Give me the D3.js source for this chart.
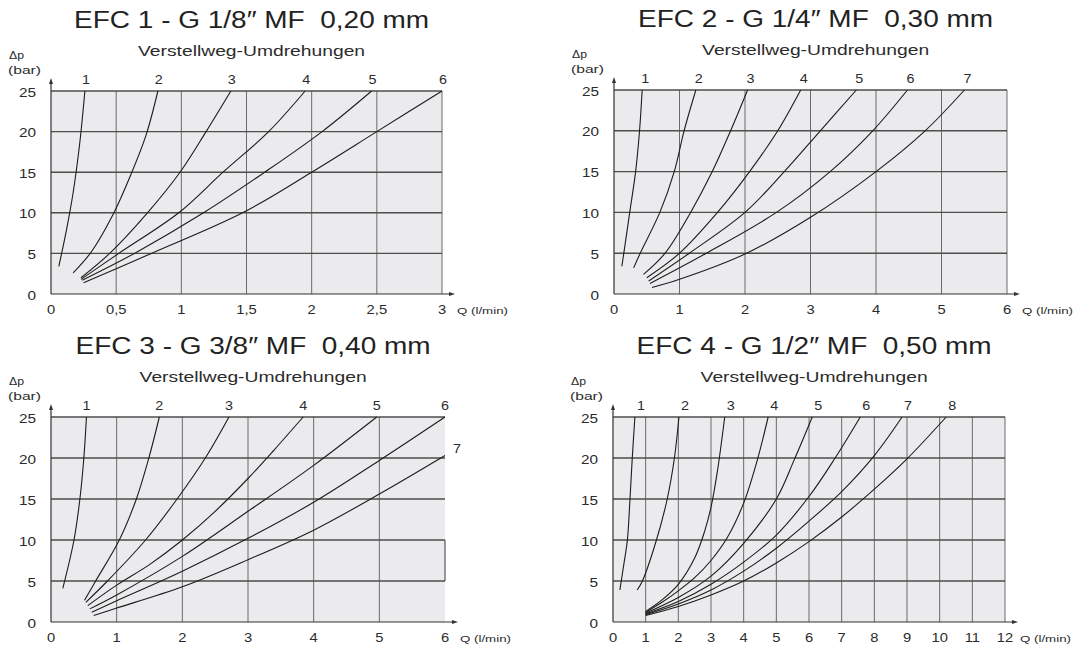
<!DOCTYPE html>
<html lang="de">
<head>
<meta charset="UTF-8">
<title>EFC Durchflusskennlinien</title>
<style>
  body { margin: 0; background: #fff; font-family: "Liberation Sans", Arial, sans-serif; }
  svg { display: block; }
</style>
</head>
<body>
<svg id="chart"></svg>
<script src="https://d3js.org/d3.v7.min.js"></script>
<script>
// --- data ---
const titles = [
  'EFC 1 - G 1/8″ MF  0,20 mm',
  'EFC 2 - G 1/4″ MF  0,30 mm',
  'EFC 3 - G 3/8″ MF  0,40 mm',
  'EFC 4 - G 1/2″ MF  0,50 mm'
];
const subtitle = 'Verstellweg-Umdrehungen';
const yLabel = ['Δp', '(bar)'];
const xLabel = 'Q (l/min)';
const yTicks = [0, 5, 10, 15, 20, 25];

const efc1XTicks = [0, 0.5, 1, 1.5, 2, 2.5, 3];
const efc2XTicks = [0, 1, 2, 3, 4, 5, 6];
const efc3XTicks = [0, 1, 2, 3, 4, 5, 6];
const efc4XTicks = [0, 1, 2, 3, 4, 5, 6, 7, 8, 9, 10, 11, 12];

// each curve: [Q, Δp] points, one curve per number of turns
const efc1Curves = [
  [[0.06, 3.4], [0.12, 8], [0.17, 12.5], [0.22, 18.5], [0.26, 25]],
  [[0.17, 2.6], [0.31, 5.2], [0.47, 9.6], [0.61, 14.6], [0.73, 19.6], [0.82, 25]],
  [[0.23, 2.0], [0.45, 5], [0.74, 10], [0.99, 15], [1.19, 20], [1.38, 25]],
  [[0.23, 1.8], [0.52, 5], [0.98, 10], [1.32, 15], [1.67, 20], [1.95, 25]],
  [[0.24, 1.7], [0.64, 5], [1.17, 10], [1.64, 15], [2.08, 20], [2.46, 25]],
  [[0.25, 1.4], [0.77, 5], [1.47, 10], [2.0, 15], [2.5, 20], [3.0, 25]]
];
const efc2Curves = [
  [[0.12, 3.4], [0.15, 5], [0.24, 10], [0.33, 15], [0.39, 20], [0.43, 25]],
  [[0.30, 3.2], [0.40, 5], [0.70, 10], [0.92, 15], [1.07, 20], [1.25, 25]],
  [[0.45, 2.4], [0.78, 5], [1.17, 10], [1.5, 15], [1.78, 20], [2.04, 25]],
  [[0.5, 2.0], [1.0, 5], [1.58, 10], [2.07, 15], [2.5, 20], [2.85, 25]],
  [[0.53, 1.6], [1.15, 5], [2.0, 10], [2.6, 15], [3.15, 20], [3.7, 25]],
  [[0.55, 1.3], [1.41, 5], [2.48, 10], [3.3, 15], [3.95, 20], [4.48, 25]],
  [[0.58, 0.8], [1.0, 1.8], [2.0, 4.9], [3.0, 9.4], [4.0, 15], [4.75, 20], [5.35, 25]]
];
const efc3Curves = [
  [[0.18, 4.1], [0.35, 10], [0.44, 15], [0.50, 20], [0.54, 25]],
  [[0.51, 2.65], [0.68, 5], [1.04, 10], [1.30, 15], [1.49, 20], [1.65, 25]],
  [[0.53, 2.4], [0.86, 5], [1.44, 10], [1.92, 15], [2.35, 20], [2.71, 25]],
  [[0.56, 2.0], [1.0, 4.5], [1.5, 7.0], [2.0, 10.0], [2.5, 13.5], [3.0, 17.5], [3.4, 21], [3.84, 25]],
  [[0.59, 1.6], [1.0, 3.3], [2.0, 8.0], [3.0, 13.5], [4.0, 19.1], [4.96, 25]],
  [[0.62, 1.2], [1.0, 2.6], [2.0, 6.2], [3.0, 10.2], [4.0, 14.6], [5.0, 19.7], [6.0, 25]],
  [[0.65, 0.8], [1.0, 1.7], [2.0, 4.3], [3.0, 7.6], [4.0, 11.2], [5.0, 15.6], [6.0, 20.3]]
];
const efc4Curves = [
  [[0.21, 3.9], [0.33, 7], [0.44, 10], [0.52, 15], [0.59, 20], [0.67, 25]],
  [[0.74, 3.9], [0.9, 5], [1.33, 10], [1.66, 15], [1.88, 20], [2.02, 25]],
  [[1.0, 1.3], [1.5, 2.7], [2.0, 4.6], [2.5, 7.8], [2.8, 11], [3.0, 14], [3.2, 18.5], [3.42, 25]],
  [[1.0, 1.2], [1.5, 2.4], [2.0, 3.8], [2.5, 5.4], [3.0, 7.5], [3.5, 10.3], [4.0, 14.5], [4.4, 19.5], [4.75, 25]],
  [[1.0, 1.1], [2.0, 3.0], [3.0, 5.6], [4.0, 9.6], [5.0, 15], [5.55, 19.8], [6.1, 25]],
  [[1.0, 1.0], [2.0, 2.5], [3.0, 4.6], [4.0, 7.3], [5.0, 10.6], [6.0, 15.3], [6.8, 20], [7.57, 25]],
  [[1.0, 0.9], [2.0, 2.2], [3.0, 3.9], [4.0, 6.2], [5.0, 9.0], [6.0, 12.3], [7.0, 15.9], [8.0, 20.3], [8.85, 25]],
  [[1.0, 0.8], [2.0, 1.9], [3.0, 3.3], [4.0, 5.0], [5.0, 7.2], [6.0, 9.8], [7.0, 12.8], [8.0, 16.2], [9.0, 19.9], [10.2, 25]]
];
// EFC 3: right border only drawn between these Δp values
const efc3EdgeSpan = [5, 10];

// --- layout ---
const width = 1082, height = 648;
const panels = [
  { xTicks: efc1XTicks, curves: efc1Curves, left: 51, right: 442, top: 91, bottom: 294, labelDx: 1 },
  { xTicks: efc2XTicks, curves: efc2Curves, left: 614, right: 1007, top: 90, bottom: 294, labelDx: 3 },
  { xTicks: efc3XTicks, curves: efc3Curves, left: 51, right: 445, top: 417, bottom: 622, labelDx: 0, edgeSpan: efc3EdgeSpan },
  { xTicks: efc4XTicks, curves: efc4Curves, left: 613, right: 1005, top: 417, bottom: 622, labelDx: 6 }
];

const svg = d3.select('#chart').attr('width', width).attr('height', height);
const fmt = d => String(d).replace('.', ',');
const ink = '#2b2b2b';

panels.forEach((p, i) => {
  const x = d3.scaleLinear().domain([0, d3.max(p.xTicks)]).range([p.left, p.right]);
  const y = d3.scaleLinear().domain([0, 25]).range([p.bottom, p.top]);
  const xMax = d3.max(p.xTicks);
  const g = svg.append('g');
  const cx = p.left + (p.right - p.left) * 0.513;

  // plot background
  g.append('rect')
    .attr('x', x(0)).attr('y', y(25))
    .attr('width', x(xMax) - x(0)).attr('height', y(0) - y(25))
    .attr('fill', '#ebebed');

  // vertical grid
  g.selectAll('.vgrid')
    .data(p.xTicks.filter(d => d > 0 && !(p.edgeSpan && d === xMax)))
    .join('line')
    .attr('x1', d => x(d)).attr('x2', d => x(d))
    .attr('y1', y(0)).attr('y2', y(25))
    .attr('stroke', '#6a6a6a').attr('stroke-width', 1);

  if (p.edgeSpan) {
    g.append('line')
      .attr('x1', x(xMax)).attr('x2', x(xMax))
      .attr('y1', y(p.edgeSpan[0])).attr('y2', y(p.edgeSpan[1]))
      .attr('stroke', '#555').attr('stroke-width', 1.2);
  }

  // horizontal grid
  g.selectAll('.hgrid')
    .data(yTicks.filter(d => d > 0))
    .join('line')
    .attr('x1', x(0)).attr('x2', x(xMax))
    .attr('y1', d => y(d)).attr('y2', d => y(d))
    .attr('stroke', '#4d4d4d').attr('stroke-width', 1.4);

  // axes with arrows
  g.append('line')
    .attr('x1', x(0)).attr('x2', x(0))
    .attr('y1', y(0)).attr('y2', y(25) - 10)
    .attr('stroke', '#333').attr('stroke-width', 1.2);
  g.append('path')
    .attr('d', `M${x(0)},${y(25) - 13}l-2,6h4z`)
    .attr('fill', '#333');
  g.append('line')
    .attr('x1', x(0)).attr('x2', x(xMax) + 10)
    .attr('y1', y(0)).attr('y2', y(0))
    .attr('stroke', '#333').attr('stroke-width', 1.2);
  g.append('path')
    .attr('d', `M${x(xMax) + 13},${y(0)}l-6,-2v4z`)
    .attr('fill', '#333');

  // curves
  const line = d3.line()
    .x(d => x(d[0])).y(d => y(d[1]))
    .curve(d3.curveCatmullRom.alpha(0.5));
  g.selectAll('.curve')
    .data(p.curves)
    .join('path')
    .attr('d', line)
    .attr('fill', 'none')
    .attr('stroke', '#1c1c1c')
    .attr('stroke-width', 1.1);

  // curve numbers
  g.selectAll('.cnum')
    .data(p.curves)
    .join('text')
    .attr('transform', d => {
      const end = d[d.length - 1];
      if (end[1] < 25) return `translate(${x(end[0]) + 12},${y(end[1]) - 3}) scale(1.15,1)`;
      return `translate(${x(end[0]) + p.labelDx},${y(25) - 7}) scale(1.15,1)`;
    })
    .attr('text-anchor', 'middle')
    .attr('font-size', 12.5)
    .attr('fill', ink)
    .text((d, j) => j + 1);

  // y tick labels
  g.selectAll('.ytick')
    .data(yTicks)
    .join('text')
    .attr('transform', d => `translate(${x(0) - 15},${y(d) + 1}) scale(1.18,1)`)
    .attr('text-anchor', 'end')
    .attr('dominant-baseline', 'central')
    .attr('font-size', 13)
    .attr('fill', ink)
    .text(d => d);

  // x tick labels
  g.selectAll('.xtick')
    .data(p.xTicks)
    .join('text')
    .attr('transform', d => `translate(${x(d)},${y(0) + 20}) scale(1.18,1)`)
    .attr('text-anchor', 'middle')
    .attr('font-size', 12.5)
    .attr('fill', ink)
    .text(fmt);

  g.append('text')
    .attr('x', x(xMax) + 15).attr('y', y(0) + 20)
    .attr('font-size', 9.5)
    .attr('textLength', 51).attr('lengthAdjust', 'spacingAndGlyphs')
    .attr('fill', ink)
    .text(xLabel);

  // axis title
  g.append('text')
    .attr('x', x(0) - 42).attr('y', y(25) - 32)
    .attr('font-size', 11.5)
    .attr('textLength', 15).attr('lengthAdjust', 'spacingAndGlyphs')
    .attr('fill', ink)
    .text(yLabel[0]);
  g.append('text')
    .attr('x', x(0) - 43).attr('y', y(25) - 17)
    .attr('font-size', 11.5)
    .attr('textLength', 33).attr('lengthAdjust', 'spacingAndGlyphs')
    .attr('fill', ink)
    .text(yLabel[1]);

  // titles
  g.append('text')
    .attr('x', cx).attr('y', y(25) - 63)
    .attr('text-anchor', 'middle')
    .attr('font-size', 23)
    .attr('textLength', 355).attr('lengthAdjust', 'spacingAndGlyphs')
    .style('white-space', 'pre')
    .attr('fill', '#222')
    .text(titles[i]);
  g.append('text')
    .attr('x', cx).attr('y', y(25) - 35)
    .attr('text-anchor', 'middle')
    .attr('font-size', 15.5)
    .attr('textLength', 227).attr('lengthAdjust', 'spacingAndGlyphs')
    .attr('fill', ink)
    .text(subtitle);
});
</script>
</body>
</html>
